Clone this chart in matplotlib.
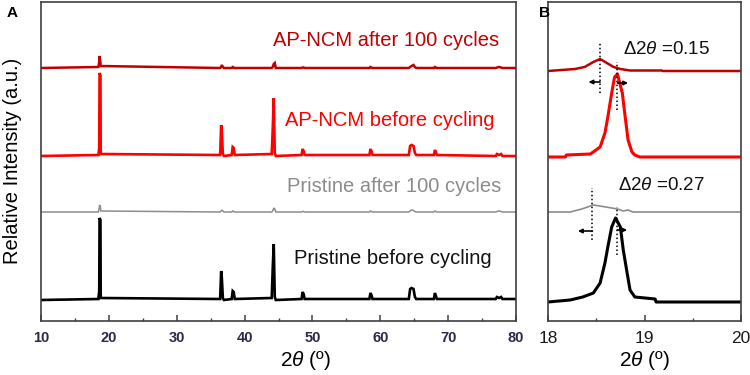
import matplotlib.pyplot as plt
from matplotlib.ticker import MultipleLocator

plt.rcParams['font.family'] = ['Liberation Sans', 'DejaVu Sans']
plt.rcParams['mathtext.fontset'] = 'custom'
plt.rcParams['mathtext.rm'] = 'Liberation Sans'
plt.rcParams['mathtext.it'] = 'Liberation Sans:italic'

# ---- Panel A: patrones completos (rejilla 2theta comun) ----
two_theta_a = [10, 18.45, 18.58, 18.63, 18.76, 18.8,
               36.4, 36.55, 36.65, 36.8, 36.95,
               38.1, 38.25, 38.4, 38.55,
               44.0, 44.15, 44.3, 44.45, 44.6,
               48.4, 48.55, 48.7, 48.85,
               58.4, 58.55, 58.7, 58.85,
               64.2, 64.4, 64.6, 64.9, 65.1, 65.3,
               67.9, 68.05, 68.2, 68.35,
               77.0, 77.2, 77.5, 77.8, 78.0,
               80]
pristine_before_a = [0, 1, 9, 82, 80, 2,
                     1, 29, 22, 2, 0,
                     1, 9, 8, 1,
                     2, 32, 56, 3, 0,
                     1, 8, 6, 1,
                     1, 7, 5, 1,
                     1, 11, 12, 11, 3, 1,
                     1, 7, 4, 1,
                     1, 3, 2, 3, 1,
                     1]
pristine_after_a = [0, 0, 4, 7, 5, 1,
                    0, 1, 2, 1, 0,
                    0, 1, 0.5, 0,
                    0, 1, 4, 3, 0,
                    0, 0.5, 0.5, 0,
                    0, 1, 0.5, 0,
                    0, 1, 2, 1.5, 0.5, 0,
                    0, 1, 0.5, 0,
                    0, 0.5, 1, 0.5, 0,
                    0]
apncm_before_a = [0, 1, 8, 83, 81, 2,
                  1, 31, 24, 2, 0,
                  1, 9, 8, 1,
                  2, 27, 58, 3, 0,
                  1, 7, 5, 1,
                  1, 7, 5, 1,
                  1, 10, 11, 10, 3, 1,
                  1, 6, 4, 1,
                  0, 2, 1, 2, 0,
                  0]
apncm_after_a = [0, 1, 6, 12, 5, 2,
                 0, 1, 3, 1, 0,
                 0, 1, 0.5, 0,
                 0, 1, 4, 5, 0,
                 0, 0.5, 0.5, 0,
                 0, 1, 0.5, 0,
                 0, 1, 2, 3, 1, 0,
                 0, 1, 0.5, 0,
                 0, 0.5, 1, 0.5, 0,
                 0]

# ---- Panel B: detalle del pico (003) ----
b_ap_after_x = [18.0, 18.28, 18.38, 18.47, 18.54, 18.61, 18.68, 18.75, 18.85, 19.18, 19.19, 20.0]
b_ap_after_y = [0, 2, 4, 9, 12, 8, 4, 2, 0.5, 0.5, 0, 0]
b_ap_before_x = [18.0, 18.18, 18.19, 18.44, 18.54, 18.59, 18.62, 18.66, 18.69, 18.72,
                 18.77, 18.80, 18.83, 18.87, 18.90, 18.95, 20.0]
b_ap_before_y = [0, 0, 2, 3, 10, 24, 40, 64, 80, 83, 64, 40, 17, 5, 2, 0, 0]
b_pr_after_x = [18.0, 18.23, 18.35, 18.47, 18.6, 18.72, 18.78, 18.83, 18.88, 20.0]
b_pr_after_y = [0, 0, 3, 7, 5, 3, 1, 2, 0, 0]
b_pr_before_x = [18.0, 18.23, 18.36, 18.47, 18.54, 18.59, 18.62, 18.66, 18.70, 18.75,
                 18.78, 18.82, 18.85, 18.90, 19.11, 19.12, 20.0]
b_pr_before_y = [0, 2, 5, 9, 19, 39, 55, 75, 84, 75, 52, 29, 12, 5, 3, 0, 0]

# centros de pico (antes / despues) para las lineas punteadas
ap_centers = [18.54, 18.72]
pristine_centers = [18.46, 18.72]

labels = ['Pristine before cycling', 'Pristine after 100 cycles',
          'AP-NCM before cycling', 'AP-NCM after 100 cycles']
colors = ['black', '#8c8c8c', '#ff0000', '#c00000']
widths = [1.9, 1.1, 1.9, 1.8]


def shift(values, offset):
    return [v + offset for v in values]


def style_axes(ax):
    for sp in ax.spines.values():
        sp.set_color('#404040')
        sp.set_linewidth(1.2)
    ax.set_yticks([])
    ax.tick_params(axis='x', which='both', direction='in', top=False)
    ax.tick_params(axis='x', which='major', length=4, width=1.1, color='#404040', pad=7)
    ax.tick_params(axis='x', which='minor', length=2.2, width=1.0, color='#404040')


fig = plt.figure(figsize=(7.5, 3.75), dpi=100)
ax_a = fig.add_axes([41 / 750, 1 - 321 / 375, 475 / 750, 319 / 375])
ax_b = fig.add_axes([548 / 750, 1 - 321 / 375, 193 / 750, 319 / 375])

# Panel A
series_a = [pristine_before_a, pristine_after_a, apncm_before_a, apncm_after_a]
offsets_a = [21, 109, 165, 253]
for ys, off, c, lw in zip(series_a, offsets_a, colors, widths):
    ax_a.plot(two_theta_a, shift(ys, off), color=c, lw=lw, solid_joinstyle='miter')

text_pos = [(61.8, 62), (62.1, 134), (61.4, 201), (60.8, 281)]
text_colors = ['#111111', '#8c8c8c', '#ff0000', '#c00000']
for lab, (tx, ty), c in zip(labels, text_pos, text_colors):
    ax_a.text(tx, ty, lab, color=c, fontsize=14.5, ha='center', va='center')

ax_a.set_xlim(10, 80)
ax_a.set_ylim(0, 319)
ax_a.xaxis.set_major_locator(MultipleLocator(10))
ax_a.xaxis.set_minor_locator(MultipleLocator(5))
style_axes(ax_a)
for t in ax_a.get_xticklabels():
    t.set_fontsize(10.5)
    t.set_fontweight('bold')
    t.set_color('#2a2a48')

# Panel B
series_b = [(b_pr_before_x, b_pr_before_y), (b_pr_after_x, b_pr_after_y),
            (b_ap_before_x, b_ap_before_y), (b_ap_after_x, b_ap_after_y)]
offsets_b = [19, 109, 164, 250]
widths_b = [2.2, 1.2, 2.2, 1.8]
for (xs, ys), off, c, lw in zip(series_b, offsets_b, colors, widths_b):
    ax_b.plot(xs, shift(ys, off), color=c, lw=lw)

# lineas punteadas en los centros de pico
dot = dict(color='black', lw=1.1, linestyle=(0, (1, 1.6)))
ax_b.plot([ap_centers[0]] * 2, [228, 278], **dot)
ax_b.plot([ap_centers[1]] * 2, [211, 259], **dot)
ax_b.plot([pristine_centers[0]] * 2, [81, 133], **dot)
ax_b.plot([pristine_centers[1]] * 2, [66, 114], **dot)

arrow = dict(arrowstyle='-|>', color='black', lw=1.2, mutation_scale=6,
             shrinkA=0, shrinkB=0)
ax_b.annotate('', xy=(ap_centers[0] - 0.12, 239), xytext=(ap_centers[0], 239), arrowprops=arrow)
ax_b.annotate('', xy=(ap_centers[1] + 0.11, 238), xytext=(ap_centers[1], 238), arrowprops=arrow)
ax_b.annotate('', xy=(pristine_centers[0] - 0.15, 90), xytext=(pristine_centers[0], 90), arrowprops=arrow)
ax_b.annotate('', xy=(pristine_centers[1] + 0.10, 91), xytext=(pristine_centers[1], 91), arrowprops=arrow)

ax_b.text(18.78, 271, r'$\Delta$2$\mathit{\theta}$ =0.15', fontsize=13.5, va='center', color='#111111')
ax_b.text(18.73, 136, r'$\Delta$2$\mathit{\theta}$ =0.27', fontsize=13.5, va='center', color='#111111')

ax_b.set_xlim(18, 20)
ax_b.set_ylim(0, 319)
ax_b.xaxis.set_major_locator(MultipleLocator(1))
ax_b.xaxis.set_minor_locator(MultipleLocator(0.5))
style_axes(ax_b)
for t in ax_b.get_xticklabels():
    t.set_fontsize(12.5)
    t.set_color('#1a1a1a')

# etiquetas de ejes y de paneles
fig.text(13 / 750, 1 - 161 / 375, 'Relative Intensity (a.u.)', rotation=90,
         ha='center', va='center', fontsize=14.5)
fig.text(305 / 750, 1 - 361 / 375, r'2$\mathit{\theta}$ (º)', ha='center', va='center', fontsize=15)
fig.text(644 / 750, 1 - 361 / 375, r'2$\mathit{\theta}$ (º)', ha='center', va='center', fontsize=15)
fig.text(12 / 750, 1 - 13 / 375, 'A', fontweight='bold', fontsize=11, ha='center', va='center')
fig.text(545 / 750, 1 - 13 / 375, 'B', fontweight='bold', fontsize=11, ha='center', va='center')

fig.savefig('out.png', dpi=100)
